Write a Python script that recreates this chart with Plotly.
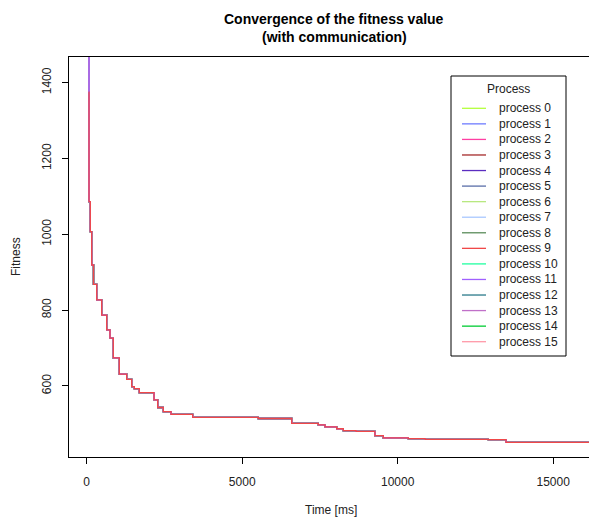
import plotly.graph_objects as go

# ---- data ----
processes = [f"process {i}" for i in range(16)]
colors = ["#B4FF3C", "#6F7CFF", "#FF3FA3", "#A52A2A", "#5B2DC0", "#5A6EA8",
          "#B8E880", "#A9C8FF", "#5A8C5A", "#F04848", "#20FFA0", "#A060FF",
          "#2A7A8A", "#C070C8", "#00CC33", "#FF99A8"]

time_ms = [60, 74, 116, 161, 219, 322, 482, 643, 749, 855, 1048, 1286, 1447,
           1531, 1691, 2164, 2283, 2463, 2711, 3408, 5518, 6592, 7447, 7663,
           8039, 8251, 8659, 9267, 9536, 10341, 10883, 12913, 13483, 16150]
fitness_common = [1086, 1007, 919, 868, 827, 787, 748, 726, 674, 631, 617, 598,
                  593, 582, 563, 543, 532, 525, 517, 514, 501, 497, 492, 487,
                  482, 480, 469, 463, 461, 459, 458, 451, 451]
start_fitness = [1500, 1520, 1480, 1510, 1530, 1500, 1490, 1505, 1495, 1375,
                 1515, 1700, 1485, 1690, 1500, 1470]

x_ticks = [0, 5000, 10000, 15000]
y_ticks = [600, 800, 1000, 1200, 1400]

# ---- layout geometry (page body margin removed by post_script) ----
W, H = 589, 521
L, R, T, B = 69, 589, 57, 457
x_range = [-569, 16151]
y_range = [412.4, 1467.8]

def px(x):
    return (x - L) / (R - L)

def py(y):
    return (B - y) / (B - T)

fig = go.Figure()
draw_order = [0, 1, 2, 3, 4, 5, 6, 7, 8, 10, 12, 14, 15, 13, 11, 9]
for i in draw_order:
    fig.add_trace(go.Scatter(
        x=time_ms, y=[start_fitness[i]] + fitness_common,
        mode="lines", line=dict(color=colors[i], width=1.3, shape="hv"),
        name=processes[i], showlegend=False, hoverinfo="skip"))

font = "Liberation Sans, Arial, Helvetica, sans-serif"

fig.update_layout(
    width=W, height=H,
    margin=dict(l=L, r=W - R, t=T, b=H - B, pad=0),
    paper_bgcolor="white", plot_bgcolor="white",
    font=dict(family=font, size=12, color="black"),
    showlegend=False,
    xaxis=dict(range=x_range, tickvals=x_ticks, ticktext=[str(v) for v in x_ticks],
               showgrid=False, zeroline=False, showline=True, mirror=True,
               linecolor="black", linewidth=1, ticks="outside", ticklen=6,
               tickcolor="black", ticklabelstandoff=8,
               tickfont=dict(family=font, size=12, color="#222")),
    yaxis=dict(range=y_range, tickvals=y_ticks, ticktext=[str(v) for v in y_ticks],
               showgrid=False, zeroline=False, showline=True, mirror=False,
               linecolor="black", linewidth=1, ticks="outside", ticklen=6,
               tickcolor="black", tickangle=-90, ticklabelstandoff=6,
               tickfont=dict(family=font, size=12, color="#222")),
)

ann = []
# titles
ann.append(dict(text="<b>Convergence of the fitness value</b>", x=px(334), y=py(19),
                xref="paper", yref="paper", showarrow=False, xanchor="center",
                yanchor="middle", font=dict(family=font, size=14, color="black")))
ann.append(dict(text="<b>(with communication)</b>", x=px(334), y=py(37),
                xref="paper", yref="paper", showarrow=False, xanchor="center",
                yanchor="middle", font=dict(family=font, size=14, color="black")))
ann.append(dict(text="Time [ms]", x=px(331), y=py(510), xref="paper", yref="paper",
                showarrow=False, xanchor="center", yanchor="middle",
                font=dict(family=font, size=12, color="#222")))
ann.append(dict(text="Fitness", x=px(16), y=py(257), xref="paper", yref="paper",
                showarrow=False, xanchor="center", yanchor="middle", textangle=-90,
                font=dict(family=font, size=12, color="#222")))

# legend (manual, R style)
shapes = [dict(type="rect", xref="paper", yref="paper", x0=px(451), x1=px(566),
               y0=py(356), y1=py(76), line=dict(color="black", width=1),
               fillcolor="white", layer="above")]
ann.append(dict(text="Process", x=px(508), y=py(89), xref="paper", yref="paper",
                showarrow=False, xanchor="center", yanchor="middle",
                font=dict(family=font, size=12, color="#222")))
for k, name in enumerate(processes):
    yy = 108.3 + 15.56 * k
    shapes.append(dict(type="line", xref="paper", yref="paper", x0=px(462), x1=px(486),
                       y0=py(yy), y1=py(yy), line=dict(color=colors[k], width=1.3),
                       layer="above"))
    ann.append(dict(text=name, x=px(497), y=py(yy), xref="paper", yref="paper",
                    showarrow=False, xanchor="left", yanchor="middle",
                    font=dict(family=font, size=12, color="#222")))

fig.update_layout(annotations=ann, shapes=shapes)
fig.write_html("out.html",
               config={"displayModeBar": False, "staticPlot": True},
               post_script="document.body.style.margin='0';"
                           "document.body.style.overflow='hidden';")
